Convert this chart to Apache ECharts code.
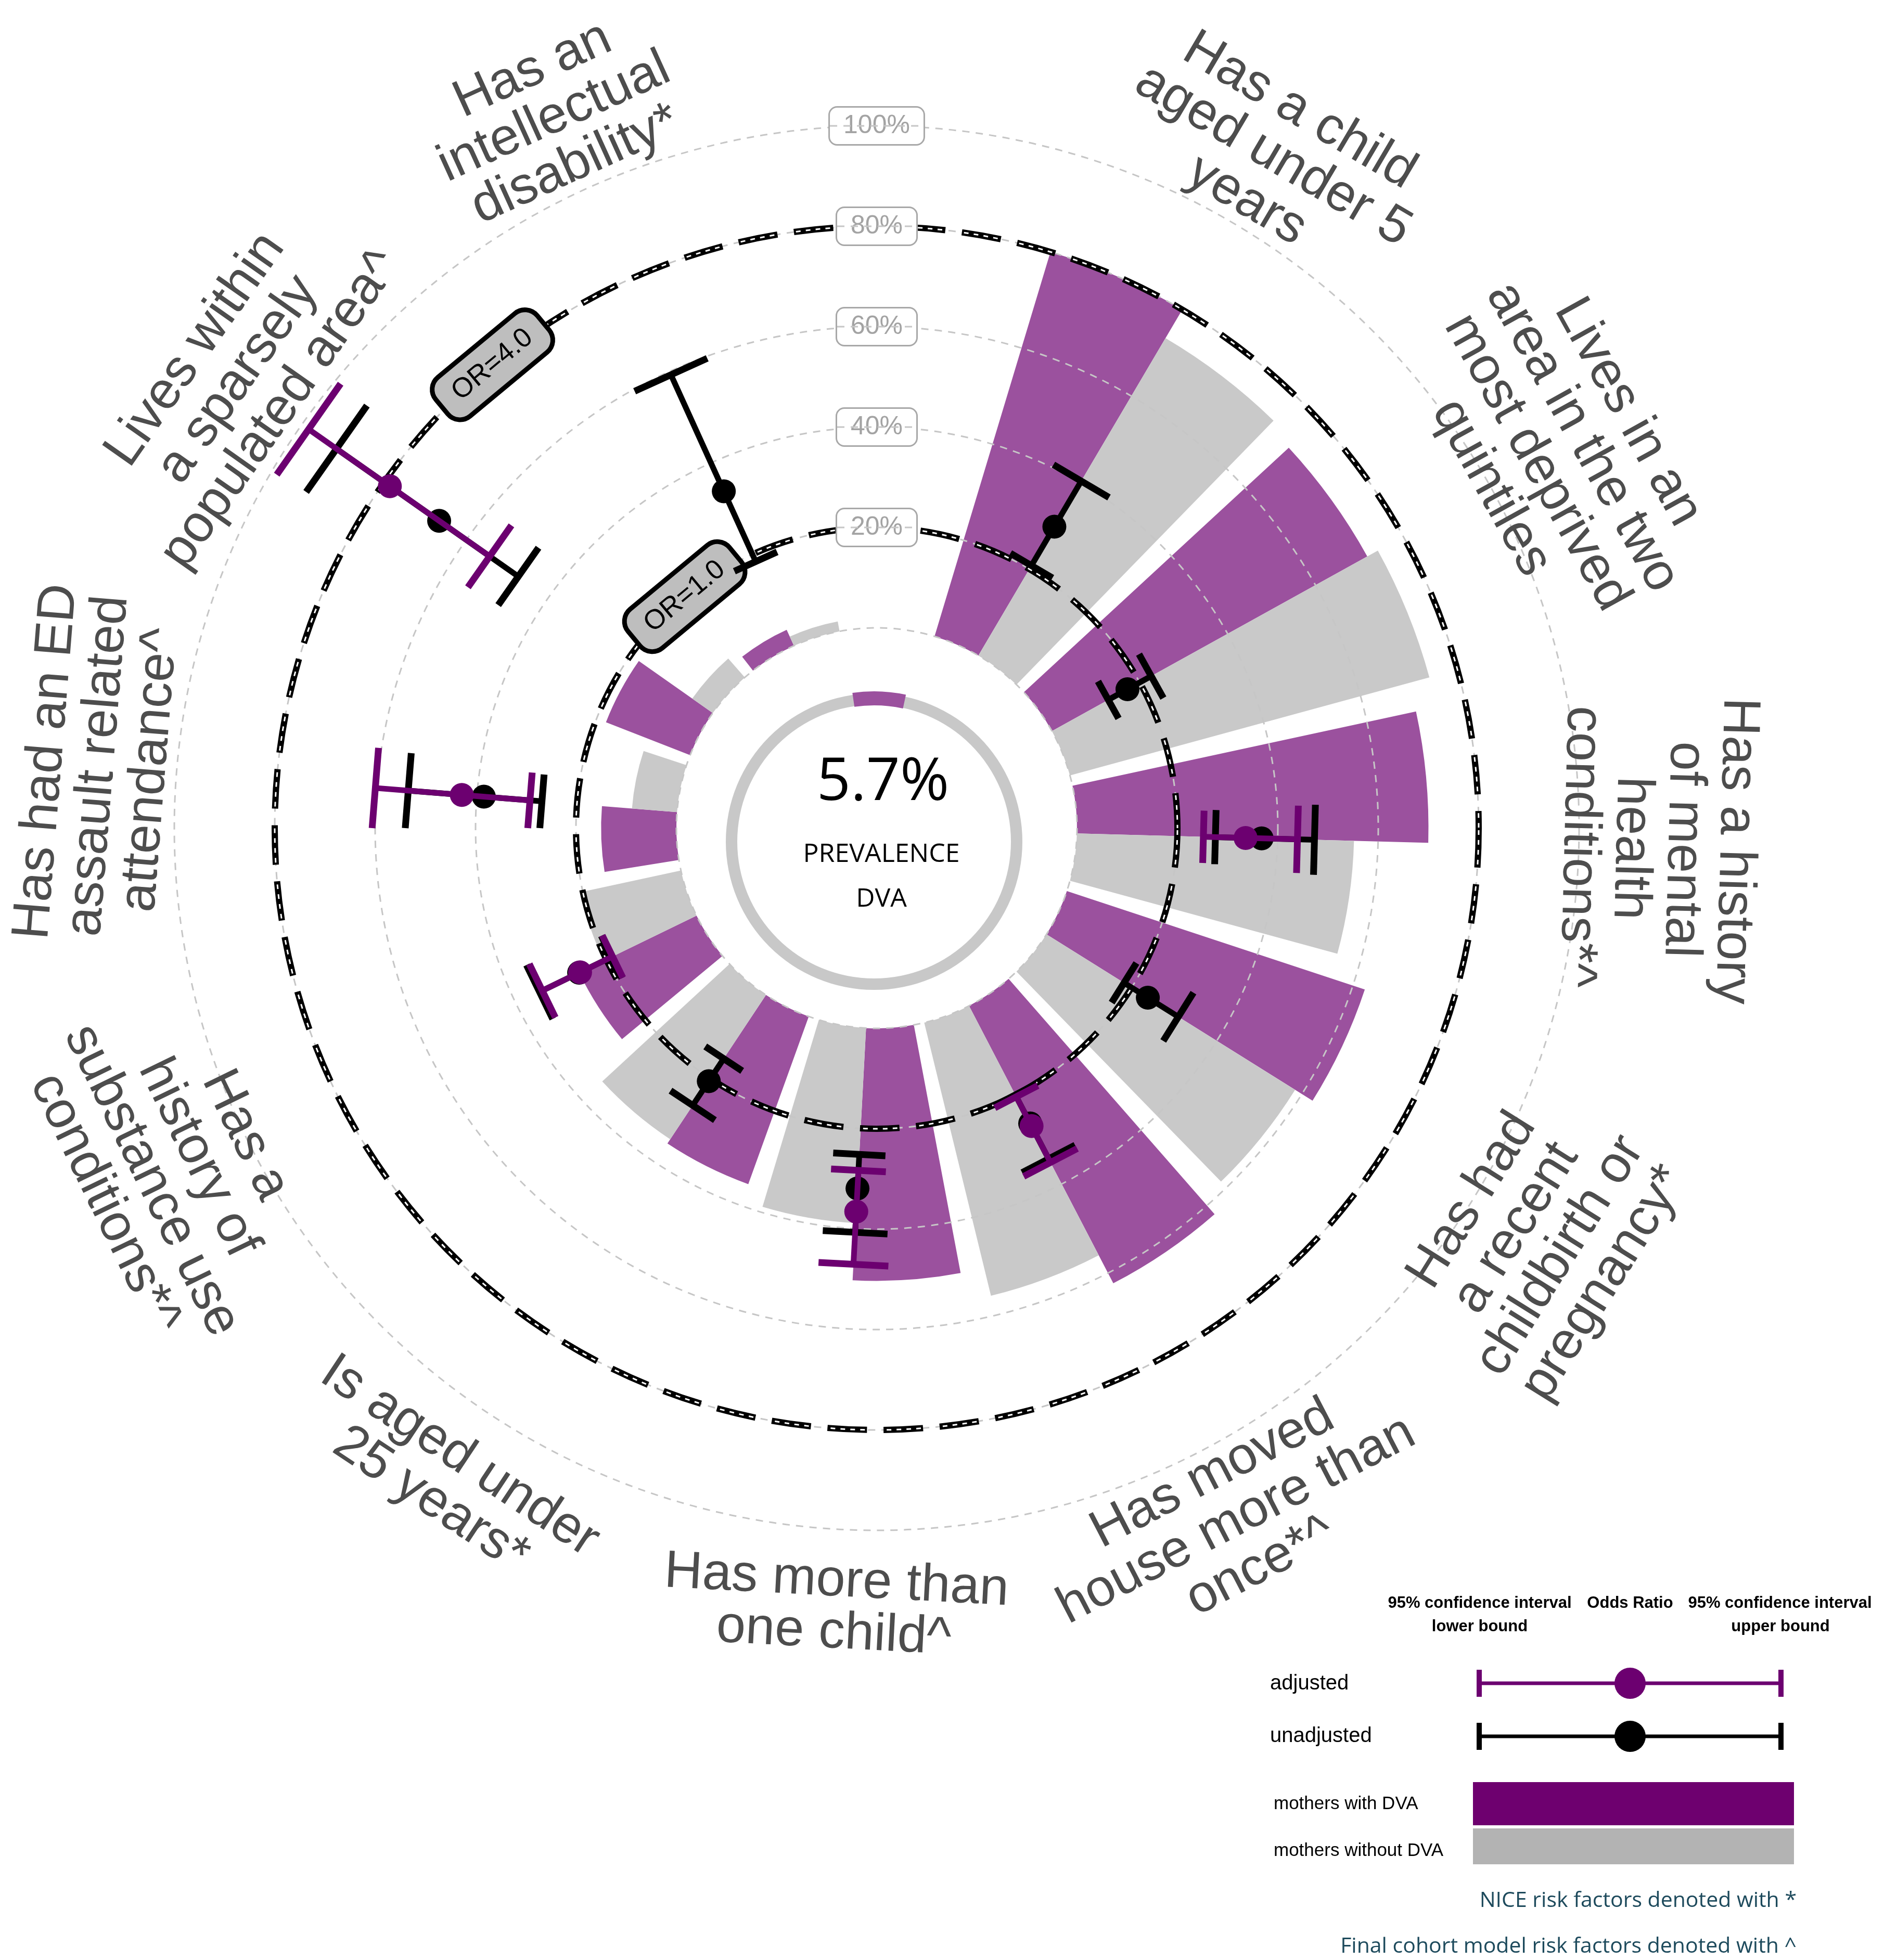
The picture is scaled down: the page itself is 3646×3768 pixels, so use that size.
<!DOCTYPE html>
<html>
<head>
<meta charset="utf-8">
<script src="https://cdn.jsdelivr.net/npm/echarts@6/dist/echarts.min.js"></script>
<style>
html,body{margin:0;padding:0;background:#ffffff;}
#main{width:3646px;height:3768px;}
</style>
</head>
<body>
<div id="main"></div>
<script>
// ---------------- DATA ----------------
const categories = [
  'Has a child\naged under 5\nyears',
  'Lives in an\narea in the two\nmost deprived\nquintiles',
  'Has a history\nof mental\nhealth\nconditions*^',
  'Has had\na recent\nchildbirth or\npregnancy*',
  'Has moved\nhouse more than\nonce*^',
  'Has more than\none child^',
  'Is aged under\n25 years*',
  'Has a\nhistory of\nsubstance use\nconditions*^',
  'Has had an ED\nassault related\nattendance^',
  'Lives within\na sparsely\npopulated area^',
  'Has an\nintellectual\ndisability*'
];
// prevalence of each risk factor (%)
const withDVA    = [80.0, 71.8, 70.0, 62.5, 62.3, 50.3, 35.5, 26.0, 15.0, 18.0, 3.5];
const withoutDVA = [73.4, 74.2, 55.2, 58.4, 56.0, 38.9, 34.5, 20.5,  9.0,  5.0, 2.0];
// odds ratios (unadjusted)
const unadjOR    = [1.49, 0.86, 1.84, 1.19, 1.32, 1.60, 1.03, 1.30, 1.93, 3.33, 1.69];
const unadjLower = [1.05, 0.65, 1.39, 0.92, 1.01, 1.27, 0.77, 0.95, 1.36, 2.38, 0.93];
const unadjUpper = [2.03, 1.14, 2.38, 1.56, 1.73, 2.05, 1.33, 1.75, 2.70, 4.60, 2.98];
// odds ratios (adjusted, final cohort model only)
const adjOR      = [null, null, 1.68, null, 1.35, 1.83, null, 1.29, 2.15, 3.93, null];
const adjLower   = [null, null, 1.27, null, 1.03, 1.43, null, 0.94, 1.48, 2.73, null];
const adjUpper   = [null, null, 2.21, null, 1.77, 2.37, null, 1.72, 3.03, 4.94, null];
// radial ticks
const radialTicks = [20, 40, 60, 80, 100];
const tickLabels  = ['20%', '40%', '60%', '80%', '100%'];
// odds-ratio reference circles
const orRefs      = [1.0, 4.0];
const orRefLabels = ['OR=1.0', 'OR=4.0'];
const prevalence  = 5.7;

// ---------------- SETTINGS ----------------
const OR_TO_PCT = 20;        // OR = 1 sits on the 20% ring
const BAR_HALF = 0.45;       // angular width of each bar (category units)
const CAP_HALF = 0.15;       // half width of error bar caps
const OR_LABEL_POS = 10.5;   // angular position of OR reference labels
const LABEL_R = 1500;        // pixel radius of category labels
const C_PURPLE = '#9b519e', C_GREY = '#c9c9c9', C_ADJ = '#6c0070', C_TXT = '#4d4d4d';

function pInfo(params, api, r, a) {
  const cs = params.coordSys;
  const p = api.coord([r, a]);
  return { x: p[0], y: p[1], ang: Math.atan2(p[1] - cs.cy, p[0] - cs.cx), rad: Math.hypot(p[0] - cs.cx, p[1] - cs.cy) };
}
function tangentRotation(params, x, y) {
  const cs = params.coordSys;
  let deg = Math.atan2(x - cs.cx, -(y - cs.cy)) * 180 / Math.PI;
  if (deg < 0) deg += 360;
  const cw = (deg < 100 || deg > 260) ? deg : deg - 180;
  return -cw * Math.PI / 180;
}
function barRender(o0, o1, color) {
  return function (params, api) {
    const cs = params.coordSys;
    const v = api.value(0), a = api.value(1);
    const s = pInfo(params, api, 0, a + o0);
    const e = pInfo(params, api, v, a + o1);
    let a0 = s.ang, a1 = e.ang;
    while (a1 < a0) a1 += Math.PI * 2;
    return { type: 'sector', shape: { cx: cs.cx, cy: cs.cy, r0: s.rad, r: e.rad, startAngle: a0, endAngle: a1, clockwise: true }, style: { fill: color } };
  };
}
function errRender(color) {
  return function (params, api) {
    const pt = api.value(0), a = api.value(1), lo = api.value(2), hi = api.value(3);
    const L = pInfo(params, api, lo, a), H = pInfo(params, api, hi, a), P = pInfo(params, api, pt, a);
    const l1 = pInfo(params, api, lo, a - CAP_HALF), l2 = pInfo(params, api, lo, a + CAP_HALF);
    const h1 = pInfo(params, api, hi, a - CAP_HALF), h2 = pInfo(params, api, hi, a + CAP_HALF);
    const ls = { stroke: color, lineWidth: 11, lineCap: 'butt' };
    const cs = { stroke: color, lineWidth: 13, lineCap: 'butt' };
    return { type: 'group', children: [
      { type: 'line', shape: { x1: L.x, y1: L.y, x2: H.x, y2: H.y }, style: ls },
      { type: 'line', shape: { x1: l1.x, y1: l1.y, x2: l2.x, y2: l2.y }, style: cs },
      { type: 'line', shape: { x1: h1.x, y1: h1.y, x2: h2.x, y2: h2.y }, style: cs },
      { type: 'circle', shape: { cx: P.x, cy: P.y, r: 23 }, style: { fill: color } }
    ] };
  };
}

const unadjData = categories.map((c, i) => [unadjOR[i] * OR_TO_PCT, i + 1, unadjLower[i] * OR_TO_PCT, unadjUpper[i] * OR_TO_PCT]);
const adjData = [];
categories.forEach((c, i) => { if (adjOR[i] != null) adjData.push([adjOR[i] * OR_TO_PCT, i + 1, adjLower[i] * OR_TO_PCT, adjUpper[i] * OR_TO_PCT]); });

const chart = echarts.init(document.getElementById('main'), null, { width: 3646, height: 3768, renderer: 'canvas' });

const errDims = [{ name: 'r', type: 'float' }, { name: 'a', type: 'float' }, { name: 'lo', type: 'float' }, { name: 'hi', type: 'float' }];

const option = {
  backgroundColor: '#ffffff',
  animation: false,
  polar: { center: [1685, 1592], radius: [385, 1350] },
  angleAxis: {
    type: 'value', min: 0, max: 11.8, startAngle: 90, clockwise: true,
    axisLine: { show: false }, axisTick: { show: false }, axisLabel: { show: false }, splitLine: { show: false }
  },
  radiusAxis: {
    type: 'value', min: 0, max: 100, interval: 20, z: 3,
    axisLine: { show: false }, axisTick: { show: false }, axisLabel: { show: false },
    splitLine: { show: true, lineStyle: { color: '#c6c6c6', width: 3, type: [14, 12] } }
  },
  series: [
    { type: 'custom', name: 'mothers with DVA', coordinateSystem: 'polar', z: 2,
      data: withDVA.map((v, i) => [v, i + 1]), renderItem: barRender(-BAR_HALF, 0, C_PURPLE) },
    { type: 'custom', name: 'mothers without DVA', coordinateSystem: 'polar', z: 2,
      data: withoutDVA.map((v, i) => [v, i + 1]), renderItem: barRender(0, BAR_HALF, C_GREY) },
    { type: 'custom', name: 'OR reference', coordinateSystem: 'polar', z: 4, silent: true,
      data: orRefs.map(o => [o * OR_TO_PCT, 0]),
      renderItem: function (params, api) {
        const cs = params.coordSys;
        const p = pInfo(params, api, api.value(0), 0);
        return { type: 'group', children: [
          { type: 'circle', shape: { cx: cs.cx, cy: cs.cy, r: p.rad }, style: { fill: 'none', stroke: '#000', lineWidth: 12, lineDash: [76, 32] } },
          { type: 'circle', shape: { cx: cs.cx, cy: cs.cy, r: p.rad }, style: { fill: 'none', stroke: '#fff', lineWidth: 3, lineDash: [9, 10, 9, 10, 9, 10, 9, 42], lineDashOffset: -4 } }
        ] };
      } },
    { type: 'custom', name: 'tick labels', coordinateSystem: 'polar', z: 5, silent: true,
      data: radialTicks.map(v => [v, 0]),
      renderItem: function (params, api) {
        const p = pInfo(params, api, api.value(0), 0);
        const txt = tickLabels[params.dataIndex];
        const w = 50 * (0.556 * (txt.length - 1) + 0.889) + 52;
        return { type: 'group', children: [
          { type: 'text', x: p.x, y: p.y, style: {
            text: txt, fill: '#a3a3a3', fontSize: 50, fontFamily: 'Liberation Sans',
            align: 'center', verticalAlign: 'middle', lineHeight: 56,
            backgroundColor: '#ffffff', borderColor: '#a8a8a8', borderWidth: 3, borderRadius: 14, padding: [7, 26]
          } },
          { type: 'line', shape: { x1: p.x - w / 2, y1: p.y, x2: p.x + w / 2, y2: p.y }, style: { stroke: '#c6c6c6', lineWidth: 3, lineDash: [14, 12] } }
        ] };
      } },
    { type: 'custom', name: 'OR labels', coordinateSystem: 'polar', z: 5, silent: true,
      data: orRefs.map(o => [o * OR_TO_PCT, OR_LABEL_POS]),
      renderItem: function (params, api) {
        const p = pInfo(params, api, api.value(0), api.value(1));
        return { type: 'text', x: p.x, y: p.y, rotation: tangentRotation(params, p.x, p.y), style: {
          text: orRefLabels[params.dataIndex], fill: '#000', fontSize: 53, fontFamily: 'Liberation Sans',
          align: 'center', verticalAlign: 'middle', lineHeight: 58,
          backgroundColor: '#bebebe', borderColor: '#000', borderWidth: 9, borderRadius: 26, padding: [15, 30]
        } };
      } },
    { type: 'custom', name: 'category labels', coordinateSystem: 'polar', z: 5, silent: true,
      data: categories.map((c, i) => [0, i + 1]),
      renderItem: function (params, api) {
        const cs = params.coordSys;
        const p = pInfo(params, api, 0, api.value(1));
        const x = cs.cx + Math.cos(p.ang) * LABEL_R, y = cs.cy + Math.sin(p.ang) * LABEL_R;
        return { type: 'text', x: x, y: y, rotation: tangentRotation(params, x, y), style: {
          text: categories[params.dataIndex], fill: C_TXT, fontSize: 101, fontFamily: 'Liberation Sans',
          align: 'center', verticalAlign: 'middle', lineHeight: 100
        } };
      } },
    { type: 'custom', name: 'unadjusted', coordinateSystem: 'polar', z: 6, dimensions: errDims,
      encode: { radius: 0, angle: 1 }, data: unadjData, renderItem: errRender('#000000') },
    { type: 'custom', name: 'adjusted', coordinateSystem: 'polar', z: 7, dimensions: errDims,
      encode: { radius: 0, angle: 1 }, data: adjData, renderItem: errRender(C_ADJ) },
    { type: 'pie', center: [1680, 1618], radius: [263, 285], silent: true, z: 1,
      label: { show: false }, labelLine: { show: false },
      data: [{ value: 100, itemStyle: { color: '#c8c8c8' } }] },
    { type: 'pie', center: [1680, 1618], radius: [262, 289], silent: true, z: 2, startAngle: 98.3,
      label: { show: false }, labelLine: { show: false },
      data: [{ value: prevalence, itemStyle: { color: C_PURPLE } }, { value: 100 - prevalence, itemStyle: { color: 'rgba(0,0,0,0)' } }] }
  ],
  graphic: [
    { type: 'text', x: 1697, y: 1506, style: { text: prevalence + '%', fill: '#000', fontSize: 114, fontFamily: 'Open Sans', align: 'center', verticalAlign: 'middle' } },
    { type: 'text', x: 1694, y: 1643, style: { text: 'PREVALENCE', fill: '#000', fontSize: 50, fontFamily: 'Open Sans', align: 'center', verticalAlign: 'middle' } },
    { type: 'text', x: 1694, y: 1729, style: { text: 'DVA', fill: '#000', fontSize: 50, fontFamily: 'Open Sans', align: 'center', verticalAlign: 'middle' } },
    // legend headers
    { type: 'text', x: 2844, y: 3082, style: { text: '95% confidence interval', fill: '#000', fontSize: 31, fontWeight: 'bold', fontFamily: 'Liberation Sans', align: 'center', verticalAlign: 'middle' } },
    { type: 'text', x: 2844, y: 3127, style: { text: 'lower bound', fill: '#000', fontSize: 31, fontWeight: 'bold', fontFamily: 'Liberation Sans', align: 'center', verticalAlign: 'middle' } },
    { type: 'text', x: 3133, y: 3082, style: { text: 'Odds Ratio', fill: '#000', fontSize: 31, fontWeight: 'bold', fontFamily: 'Liberation Sans', align: 'center', verticalAlign: 'middle' } },
    { type: 'text', x: 3421, y: 3082, style: { text: '95% confidence interval', fill: '#000', fontSize: 31, fontWeight: 'bold', fontFamily: 'Liberation Sans', align: 'center', verticalAlign: 'middle' } },
    { type: 'text', x: 3422, y: 3127, style: { text: 'upper bound', fill: '#000', fontSize: 31, fontWeight: 'bold', fontFamily: 'Liberation Sans', align: 'center', verticalAlign: 'middle' } },
    // legend: adjusted
    { type: 'text', x: 2441, y: 3237, style: { text: 'adjusted', fill: '#000', fontSize: 40, fontFamily: 'Liberation Sans', align: 'left', verticalAlign: 'middle' } },
    { type: 'line', shape: { x1: 2843, y1: 3236, x2: 3423, y2: 3236 }, style: { stroke: C_ADJ, lineWidth: 7 } },
    { type: 'line', shape: { x1: 2843, y1: 3210, x2: 2843, y2: 3262 }, style: { stroke: C_ADJ, lineWidth: 10 } },
    { type: 'line', shape: { x1: 3423, y1: 3210, x2: 3423, y2: 3262 }, style: { stroke: C_ADJ, lineWidth: 10 } },
    { type: 'circle', shape: { cx: 3133, cy: 3236, r: 30 }, style: { fill: C_ADJ } },
    // legend: unadjusted
    { type: 'text', x: 2441, y: 3338, style: { text: 'unadjusted', fill: '#000', fontSize: 40, fontFamily: 'Liberation Sans', align: 'left', verticalAlign: 'middle' } },
    { type: 'line', shape: { x1: 2843, y1: 3338, x2: 3423, y2: 3338 }, style: { stroke: '#000', lineWidth: 7 } },
    { type: 'line', shape: { x1: 2843, y1: 3312, x2: 2843, y2: 3364 }, style: { stroke: '#000', lineWidth: 10 } },
    { type: 'line', shape: { x1: 3423, y1: 3312, x2: 3423, y2: 3364 }, style: { stroke: '#000', lineWidth: 10 } },
    { type: 'circle', shape: { cx: 3133, cy: 3338, r: 30 }, style: { fill: '#000' } },
    // legend: bars
    { type: 'rect', shape: { x: 2831, y: 3426, width: 617, height: 83 }, style: { fill: '#6e006f' } },
    { type: 'rect', shape: { x: 2831, y: 3515, width: 617, height: 69 }, style: { fill: '#b3b3b3' } },
    { type: 'text', x: 2448, y: 3468, style: { text: 'mothers with DVA', fill: '#000', fontSize: 35, fontFamily: 'Liberation Sans', align: 'left', verticalAlign: 'middle' } },
    { type: 'text', x: 2448, y: 3558, style: { text: 'mothers without DVA', fill: '#000', fontSize: 35, fontFamily: 'Liberation Sans', align: 'left', verticalAlign: 'middle' } },
    // notes
    { type: 'text', x: 3453, y: 3654, style: { text: 'NICE risk factors denoted with *', fill: '#1d4a5c', fontSize: 41, fontFamily: 'Open Sans', align: 'right', verticalAlign: 'middle' } },
    { type: 'text', x: 3453, y: 3742, style: { text: 'Final cohort model risk factors denoted with ^', fill: '#1d4a5c', fontSize: 41, fontFamily: 'Open Sans', align: 'right', verticalAlign: 'middle' } }
  ]
};
chart.setOption(option);
</script>
</body>
</html>
